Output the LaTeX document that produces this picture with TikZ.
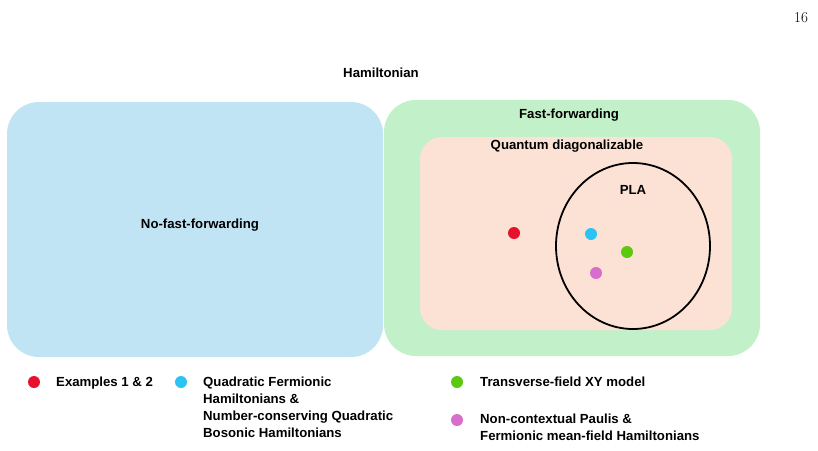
\documentclass[tikz,border=0pt]{standalone}
\usepackage{fontspec}
\setsansfont{Liberation Sans}
\usetikzlibrary{positioning}
\definecolor{bluebox}{HTML}{C0E4F4}
\definecolor{greenbox}{HTML}{C2F0C8}
\definecolor{peachbox}{HTML}{FBE2D5}
\definecolor{dred}{HTML}{E8112D}
\definecolor{dcyan}{HTML}{2BC4F2}
\definecolor{dgreen}{HTML}{5CC80F}
\definecolor{dpink}{HTML}{D86ECC}
\begin{document}
\begin{tikzpicture}[x=1pt,y=-1pt,
  lbl/.style={font=\sffamily\bfseries\fontsize{13.2}{17}\selectfont,inner sep=0pt},
  leg/.style={lbl,anchor=north west,align=left},
  dot/.style={circle,inner sep=0pt,minimum size=12pt}]
\useasboundingbox (0,0) rectangle (818,450);
\node[font=\fontsize{15}{17}\selectfont] (pg) at (801,18) {16};
\node[lbl] (ham) at (381,73) {Hamiltonian};
\fill[bluebox,rounded corners=32] (7,102) rectangle (383,357);
\fill[greenbox,rounded corners=32] (384,100) rectangle (760,356);
\fill[peachbox,rounded corners=22] (420,137) rectangle (732,330);
\node[lbl] (nff) at (200,225) {No-fast-forwarding};
\node[lbl] (ff) at (569,115) {Fast-forwarding};
\node[lbl] (qd) at (567,146) {Quantum diagonalizable};
\draw[line width=1.8pt] (633,246) ellipse [x radius=77, y radius=83];
\node[lbl] (pla) at (633,190) {PLA};
\node[dot,fill=dred] (d1) at (514,233) {};
\node[dot,fill=dcyan] (d2) at (591,234) {};
\node[dot,fill=dgreen] (d3) at (627,252) {};
\node[dot,fill=dpink] (d4) at (596,273) {};
\node[dot,fill=dred] (l1) at (34,382) {};
\node[leg] (t1) at (56,377) {Examples 1 \& 2};
\node[dot,fill=dcyan] (l2) at (181,382) {};
\node[leg] (t2) at (203,377) {Quadratic Fermionic\\Hamiltonians \&\\Number-conserving Quadratic\\Bosonic Hamiltonians};
\node[dot,fill=dgreen] (l3) at (457,382) {};
\node[leg] (t3) at (480,377) {Transverse-field XY model};
\node[dot,fill=dpink] (l4) at (457,420) {};
\node[leg] (t4) at (480,414) {Non-contextual Paulis \&\\Fermionic mean-field Hamiltonians};
\end{tikzpicture}
\end{document}
